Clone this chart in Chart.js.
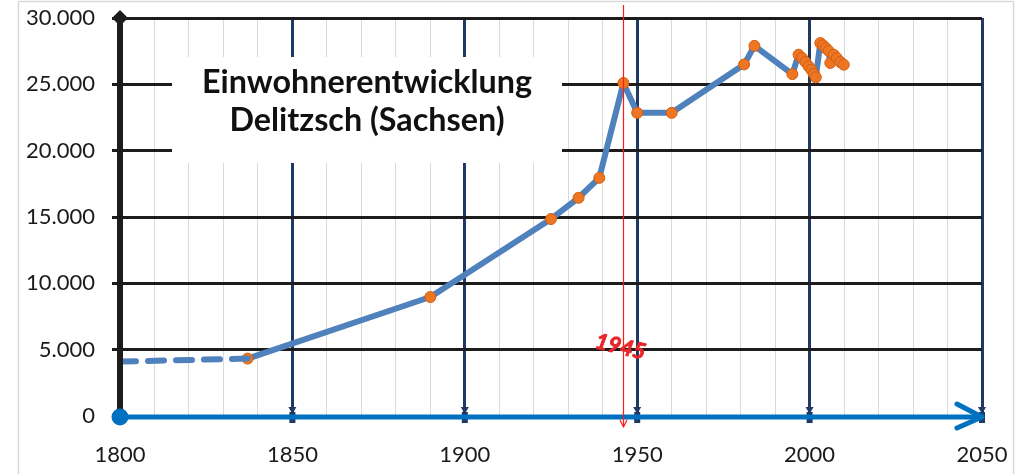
<!DOCTYPE html>
<html><head><meta charset="utf-8">
<script src="https://cdn.jsdelivr.net/npm/chart.js@4"></script>
<style>html,body{margin:0;padding:0;background:#fff;}canvas{display:block;}</style>
</head><body>
<canvas id="c" width="1024" height="474"></canvas>
<script>
// ---- data ----
const earlyYears = [1800, 1837];
const earlyPopulation = [4100, 4330];
const years = [1837, 1890, 1925, 1933, 1939, 1946, 1950, 1960, 1981, 1984, 1995,
  1996.8, 1997.8, 1998.8, 1999.7, 2000.5, 2001.2, 2001.8,
  2003.1, 2003.9, 2004.7, 2005.5, 2006, 2007, 2007.9, 2008.9, 2009.9];
const population = [4330, 8970, 14850, 16450, 17950, 25100, 22850, 22850, 26500, 27900, 25770,
  27230, 26980, 26680, 26360, 26100, 25780, 25530,
  28110, 27940, 27740, 27530, 26610, 27230, 26980, 26680, 26480];
const xMin = 1800, xMax = 2050, xMajorStep = 50, xMinorStep = 10;
const yMin = 0, yMax = 30000, yStep = 5000;
const titleLines = ['Einwohnerentwicklung', 'Delitzsch (Sachsen)'];
const eventYear = 1946;          // position of the red marker line as drawn
const eventLabel = '1945';

const fmt = v => String(v).replace(/\B(?=(\d{3})+(?!\d))/g, '.');
const NAVY = '#1F3864', BLUE = '#0070C0', LINE = '#4F81BD', BLACK = '#1c1c1c';

const decorations = {
  id: 'decorations',
  beforeDraw(chart) {
    const ctx = chart.ctx;
    ctx.save();
    ctx.strokeStyle = '#d9d9d9';
    ctx.lineWidth = 1.5;
    ctx.strokeRect(18.5, 1.5, 995, 500);
    ctx.restore();
  },
  beforeDatasetsDraw(chart) {
    const ctx = chart.ctx;
    ctx.save();
    ctx.fillStyle = '#fff';
    ctx.fillRect(172, 57, 390, 106);
    ctx.fillStyle = '#111';
    ctx.textAlign = 'center';
    ctx.textBaseline = 'alphabetic';
    ctx.font = 'bold 30px Lato';
    const w = ctx.measureText(titleLines[0]).width;
    const size = 30 * 330 / w;
    ctx.font = 'bold ' + size.toFixed(1) + 'px Lato';
    ctx.fillText(titleLines[0], 367, 93);
    ctx.fillText(titleLines[1], 367, 131);
    ctx.restore();
  },
  afterDraw(chart) {
    const ctx = chart.ctx;
    const xs = chart.scales.x, ys = chart.scales.y;
    const x0 = xs.getPixelForValue(xMin), x1 = xs.getPixelForValue(xMax);
    const yb = ys.getPixelForValue(yMin), yt = ys.getPixelForValue(yMax);
    ctx.save();
    ctx.strokeStyle = BLACK; ctx.lineWidth = 6;
    ctx.beginPath(); ctx.moveTo(x0, yt); ctx.lineTo(x0, yb); ctx.stroke();
    ctx.fillStyle = BLACK;
    ctx.beginPath();
    ctx.moveTo(x0, yt - 8); ctx.lineTo(x0 + 8, yt); ctx.lineTo(x0, yt + 8); ctx.lineTo(x0 - 8, yt);
    ctx.closePath(); ctx.fill();
    ctx.fillStyle = NAVY;
    for (let v = xMin + xMajorStep; v <= xMax; v += xMajorStep) {
      const px = xs.getPixelForValue(v);
      ctx.beginPath();
      ctx.moveTo(px - 4, yb - 9); ctx.lineTo(px + 4, yb - 9); ctx.lineTo(px, yb - 2);
      ctx.closePath(); ctx.fill();
      ctx.fillRect(px - 3, yb - 4, 6, 11);
    }
    ctx.strokeStyle = BLUE; ctx.lineWidth = 5; ctx.lineCap = 'round'; ctx.lineJoin = 'round';
    ctx.beginPath(); ctx.moveTo(x0, yb + 1); ctx.lineTo(x1 - 2, yb + 1); ctx.stroke();
    ctx.beginPath();
    ctx.moveTo(x1 - 25, yb - 12); ctx.lineTo(x1, yb + 1); ctx.lineTo(x1 - 25, yb + 12);
    ctx.stroke();
    ctx.fillStyle = BLUE;
    ctx.beginPath(); ctx.arc(x0, yb + 1, 8.5, 0, Math.PI * 2); ctx.fill();
    const ex = Math.round(xs.getPixelForValue(eventYear)) + 0.5;
    ctx.strokeStyle = '#ff1a1a'; ctx.lineWidth = 1.2; ctx.lineCap = 'butt';
    ctx.beginPath(); ctx.moveTo(ex, 5); ctx.lineTo(ex, yb + 11); ctx.stroke();
    ctx.beginPath(); ctx.moveTo(ex - 3.5, yb + 4); ctx.lineTo(ex, yb + 11); ctx.lineTo(ex + 3.5, yb + 4); ctx.stroke();
    ctx.translate(ex - 3, 347);
    ctx.rotate(0.23);
    ctx.fillStyle = '#e8262a';
    ctx.strokeStyle = '#e8262a';
    ctx.lineWidth = 0.9;
    ctx.lineJoin = 'round';
    ctx.font = 'italic bold 22px Lato';
    ctx.textAlign = 'center'; ctx.textBaseline = 'middle';
    ctx.fillText(eventLabel, 0, 0);
    ctx.strokeText(eventLabel, 0, 0);
    ctx.restore();
  }
};

new Chart(document.getElementById('c'), {
  type: 'line',
  data: {
    datasets: [
      {
        data: earlyYears.map((x, i) => ({ x, y: earlyPopulation[i] })),
        borderColor: LINE, borderWidth: 6, borderDash: [16, 12], borderCapStyle: 'round',
        pointRadius: 0, fill: false, tension: 0
      },
      {
        data: years.map((x, i) => ({ x, y: population[i] })),
        borderColor: LINE, borderWidth: 6, borderJoinStyle: 'round', tension: 0,
        pointRadius: 5.5, pointBackgroundColor: '#EE7623', pointBorderColor: '#D35E12',
        pointBorderWidth: 1, fill: false
      }
    ]
  },
  options: {
    responsive: false, animation: false,
    layout: { padding: { top: 18, right: 42, left: 0, bottom: 0 } },
    plugins: { legend: { display: false }, tooltip: { enabled: false }, title: { display: false } },
    scales: {
      x: {
        type: 'linear', min: xMin, max: xMax,
        afterFit: s => { s.height = 58; s.paddingLeft = 0; s.paddingRight = 0; },
        afterBuildTicks: s => { const t = []; for (let v = xMin; v <= xMax; v += xMinorStep) t.push({ value: v }); s.ticks = t; },
        ticks: {
          autoSkip: false, maxRotation: 0, padding: 26, color: '#1a1a1a',
          font: { family: 'Lato', size: 22 },
          callback: v => (v % xMajorStep === 0 ? String(v) : '')
        },
        grid: {
          drawTicks: false,
          color: c => (c.tick && c.tick.value % xMajorStep === 0 ? NAVY : '#d9d9d9'),
          lineWidth: c => (c.tick && c.tick.value % xMajorStep === 0 ? 3 : 1)
        },
        border: { display: false }
      },
      y: {
        min: yMin, max: yMax,
        afterFit: s => { s.width = 120; s.paddingTop = 0; s.paddingBottom = 0; },
        ticks: {
          stepSize: yStep, padding: 17, color: '#1a1a1a',
          font: { family: 'Lato', size: 22 },
          callback: v => fmt(v)
        },
        grid: { color: BLACK, lineWidth: 3, tickLength: 8, tickColor: BLACK, tickWidth: 3 },
        border: { display: false }
      }
    }
  },
  plugins: [decorations]
});
</script>
</body></html>
